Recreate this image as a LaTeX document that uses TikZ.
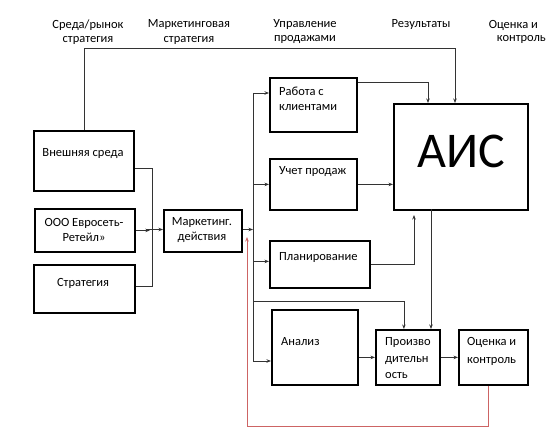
\documentclass[tikz,border=0pt]{standalone}
\usepackage{fontspec}
\setmainfont{Carlito}
\usetikzlibrary{arrows.meta}
\definecolor{fbred}{RGB}{205,100,100}
\begin{document}
\begin{tikzpicture}[x=1pt,y=-1pt,
  box/.style={draw=black,line width=1.8pt,inner sep=0pt,anchor=north west},
  lbl/.style={font=\fontsize{12.5}{15}\selectfont,inner sep=0pt,anchor=west,align=left},
  ctr/.style={font=\fontsize{12.5}{15}\selectfont,inner sep=0pt,align=center},
  ttl/.style={font=\fontsize{12.5}{14}\selectfont,inner sep=0pt,align=center},
  conn/.style={draw=black!80,line width=0.8pt},
  arr/.style={conn,-{Stealth[length=4.5pt,width=3.5pt]}},
  fb/.style={draw=fbred,line width=0.8pt,-{Stealth[length=4.5pt,width=3.5pt]}}]
\useasboundingbox (0,0) rectangle (556,446);

% titles
\node[ttl] (t1) at (88,32) {Среда/рынок\\стратегия};
\node[ttl] (t2) at (189,32) {Маркетинговая\\стратегия};
\node[ttl] (t3) at (305,32) {Управление\\продажами};
\node[ttl] (t4) at (421,25) {Результаты};
\node[ttl,anchor=east] (t5a) at (538,25) {Оценка и};
\node[ttl,anchor=east] (t5b) at (546,39) {контроль};

% boxes
\node[box,minimum width=100pt,minimum height=60pt] (ext) at (33,130) {};
\node[box,minimum width=100pt,minimum height=43pt] (ooo) at (34,208) {};
\node[box,minimum width=101pt,minimum height=48pt] (strat) at (33,264) {};
\node[box,minimum width=78pt,minimum height=42pt] (mkt) at (163,209) {};
\node[box,minimum width=87pt,minimum height=54pt] (rab) at (269,77) {};
\node[box,minimum width=87pt,minimum height=51pt] (uch) at (269,158) {};
\node[box,minimum width=100pt,minimum height=47pt] (plan) at (269,240) {};
\node[box,minimum width=134pt,minimum height=106pt] (ais) at (393,103) {};
\node[box,minimum width=86pt,minimum height=75pt] (anal) at (271,309) {};
\node[box,minimum width=64pt,minimum height=55pt] (proizv) at (375,329) {};
\node[box,minimum width=69pt,minimum height=55pt] (ocen) at (458,329) {};

% texts
\node[ctr] (ext-t) at (83,154) {Внешняя среда};
\node[ctr] (ooo-t) at (84,229.5) {ООО Евросеть-\\Ретейл»};
\node[ctr] (strat-t) at (83,283) {Стратегия};
\node[ctr] (mkt-t) at (202,230.5) {Маркетинг.\\действия};
\node[lbl] (rab-t) at (279,98.5) {Работа с\\клиентами};
\node[lbl] (uch-t) at (279,172) {Учет продаж};
\node[lbl] (plan-t) at (279,257) {Планирование};
\node[font=\fontsize{50}{50}\selectfont,inner sep=0pt] (ais-t) at (461,151) {АИС};
\node[lbl] (anal-t) at (281,342) {Анализ};
\node[lbl,font=\fontsize{12.5}{16.5}\selectfont] (proizv-t) at (385,358.5) {Произво\\дительн\\ость};
\node[lbl,font=\fontsize{12.5}{18}\selectfont] (ocen-t) at (467,351) {Оценка и\\контроль};

% coordinates
\coordinate (topR) at (455,48);
\coordinate (j) at (152,229.5);
\coordinate (bt) at (253,93);
\coordinate (bb) at (253,361);
\coordinate (br) at (253,301);
\coordinate (rabx) at (428,82);
\coordinate (aisx) at (431,209);
\coordinate (planup) at (414,215);
\coordinate (redx) at (488,426);
\coordinate (redl) at (247,426);
\coordinate (redtop) at (247,237);

% connectors
\draw[arr] (ext.north) |- (topR) -- (ais.north -| topR);
\draw[conn] ([yshift=-8pt]ext.east) -| (j);
\draw[conn] ([yshift=3pt]strat.east) -| (j);
\draw[arr] (ooo.east) -- ++(14,0);
\draw[arr] ([xshift=-5pt]j) -- (mkt.west |- j);
\draw[arr] (mkt.east |- j) -- (j -| bt);
\draw[conn] (bt) -- (bb);
\draw[arr] (bt) -- (rab.west |- bt);
\draw[arr] (uch.west -| bt) -- (uch.west);
\draw[arr] ([yshift=3pt]plan.west -| bt) -- ([yshift=3pt]plan.west);
\draw[arr] (bb) -- (anal.west |- bb);
\draw[arr] (br) -| ([xshift=-4pt]proizv.north);
\draw[arr] ([yshift=-5pt]rab.north east) -| (ais.north -| rabx);
\draw[arr] (uch.east) -- (uch.east -| ais.west);
\draw[arr] (plan.east) -| (planup);
\draw[arr] (aisx) -- (proizv.north -| aisx);
\draw[arr] (anal.east |- proizv.west) -- (proizv.west);
\draw[arr] (proizv.east) -- (ocen.west);
\draw[fb] (ocen.south -| redx) -- (redx) -- (redl) -- (redtop);
\end{tikzpicture}
\end{document}
